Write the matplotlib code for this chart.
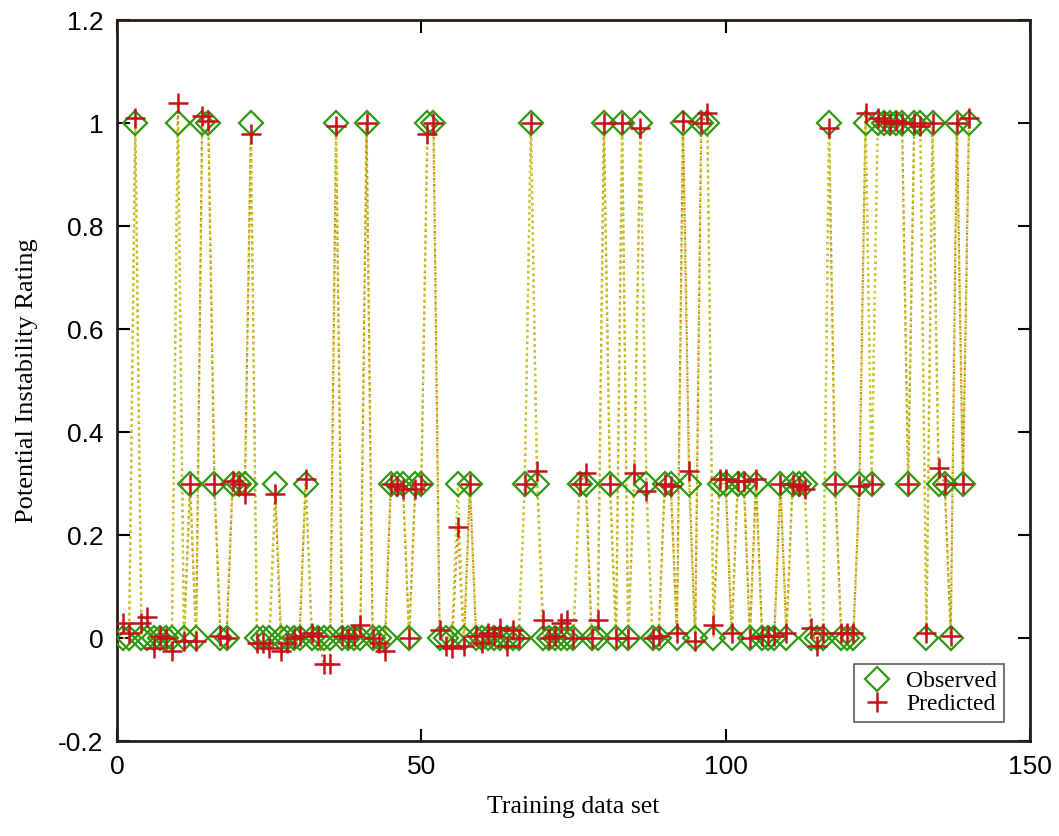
import matplotlib
matplotlib.use('Agg')
from matplotlib import pyplot as plt

# observed / predicted rating for each training sample (index 1..140)
observed = [0, 0, 1, 0, 0, 0, 0, 0, 0, 1,
            0, 0.3, 0, 1, 1, 0.3, 0, 0, 0.3, 0.3,
            0.3, 1, 0, 0, 0, 0.3, 0, 0, 0, 0,
            0.3, 0, 0, 0, 0, 1, 0, 0, 0, 0,
            1, 0, 0, 0, 0.3, 0.3, 0.3, 0, 0.3, 0.3,
            1, 1, 0, 0, 0, 0.3, 0, 0.3, 0, 0,
            0, 0, 0, 0, 0, 0, 0.3, 1, 0.3, 0,
            0, 0, 0, 0, 0, 0.3, 0.3, 0, 0, 1,
            0.3, 0, 1, 0, 0.3, 1, 0.3, 0, 0, 0.3,
            0.3, 0, 1, 0.3, 0, 1, 1, 0, 0.3, 0.3,
            0, 0.3, 0.3, 0, 0.3, 0, 0, 0, 0.3, 0,
            0.3, 0.3, 0.3, 0, 0, 0, 1, 0.3, 0, 0,
            0, 0.3, 1, 0.3, 1, 1, 1, 1, 1, 0.3,
            1, 1, 0, 1, 0.3, 0.3, 0, 1, 0.3, 1]

predicted = [0.03, 0.01, 1.01, 0.03, 0.04, -0.02, 0.005, 0.0, -0.025, 1.04,
             -0.005, 0.30, -0.005, 1.015, 1.005, 0.30, 0.005, 0.0, 0.305, 0.30,
             0.28, 0.98, -0.01, -0.01, -0.02, 0.28, -0.025, -0.01, 0.0, 0.005,
             0.31, 0.01, 0.005, -0.05, -0.05, 0.995, 0.005, 0.0, 0.005, 0.025,
             1.0, 0.0, -0.01, -0.025, 0.30, 0.295, 0.29, 0.0, 0.29, 0.30,
             0.98, 1.0, 0.015, -0.015, -0.02, 0.215, -0.015, 0.30, 0.005, -0.01,
             0.01, 0.005, 0.02, -0.015, 0.015, 0.0, 0.30, 1.0, 0.325, 0.035,
             0.0, 0.005, 0.03, 0.035, 0.0, 0.30, 0.32, 0.0, 0.035, 1.0,
             0.30, 0.0, 1.0, 0.0, 0.32, 0.99, 0.285, 0.0, 0.005, 0.30,
             0.295, 0.01, 1.005, 0.325, -0.005, 1.0, 1.02, 0.025, 0.31, 0.31,
             0.01, 0.305, 0.305, 0.0, 0.31, 0.005, 0.005, 0.005, 0.30, 0.01,
             0.30, 0.295, 0.29, 0.02, -0.015, 0.01, 0.99, 0.30, 0.01, 0.01,
             0.01, 0.295, 1.02, 0.30, 1.01, 1.005, 1.0, 1.005, 1.0, 0.30,
             1.0, 0.995, 0.01, 1.0, 0.33, 0.30, 0.005, 1.0, 0.30, 1.01]

samples = list(range(1, len(observed) + 1))

fig = plt.figure(figsize=(10.59, 8.36), dpi=100)
ax = fig.add_axes([0.1105, 0.1136, 0.862, 0.862])

ax.plot(samples, predicted, ':', c='#d9801a', lw=1.6, zorder=2)
ax.plot(samples, observed, ':', c='#bcd62a', lw=1.6, zorder=2)
ax.plot(samples, observed, 'D', ms=12, mfc='none', mec='#2f9a10', mew=1.6,
        linestyle='none', label='Observed', zorder=3)
ax.plot(samples, predicted, '+', ms=14, c='#c8101a', mew=1.8,
        linestyle='none', label='Predicted', zorder=4)

ax.set_xlim(0, 150)
ax.set_ylim(-0.2, 1.2)
ax.set_xticks([0, 50, 100, 150])
ax.set_yticks([-0.2, 0, 0.2, 0.4, 0.6, 0.8, 1.0, 1.2])
ax.set_yticklabels(['-0.2', '0', '0.2', '0.4', '0.6', '0.8', '1', '1.2'])
ax.tick_params(axis='both', direction='in', length=9, width=1.5,
               top=True, right=True, labelsize=19, pad=10)
for lab in ax.get_xticklabels() + ax.get_yticklabels():
    lab.set_fontfamily('Liberation Sans')
for s in ax.spines.values():
    s.set_linewidth(2)
    s.set_color('#2a1c14')

ax.set_xlabel('Training data set', fontsize=18.5, family='Liberation Serif', labelpad=12)
ax.set_ylabel('Potential Instability Rating', fontsize=19, family='Liberation Serif', labelpad=14)

leg = ax.legend(loc='lower right', fancybox=False, edgecolor='#333333',
                prop={'family': 'Liberation Serif', 'size': 17},
                handletextpad=0.6, borderpad=0.3, labelspacing=0.05,
                handlelength=1.3, bbox_to_anchor=(0.985, 0.01))
leg.get_frame().set_linewidth(1.2)

plt.savefig('out.png', dpi=100)
